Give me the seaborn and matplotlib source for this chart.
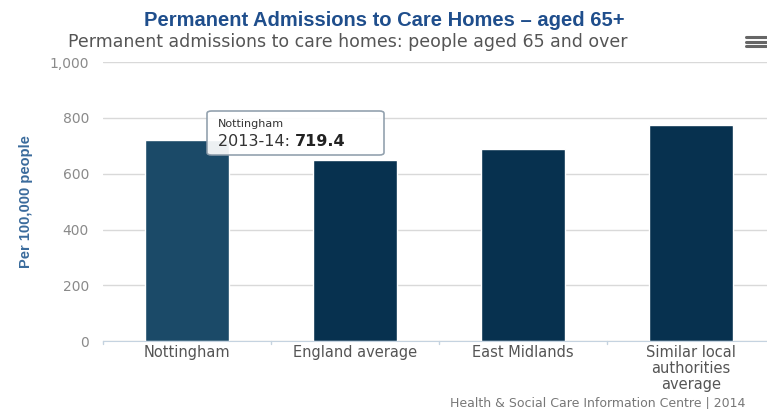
import matplotlib
matplotlib.use("Agg")
import matplotlib.pyplot as plt
from matplotlib.patches import FancyBboxPatch
from matplotlib.lines import Line2D
import pandas as pd
import seaborn as sns

areas = ["Nottingham", "England average", "East Midlands",
         "Similar local\nauthorities\naverage"]
admissions = [719.4, 649.0, 689.0, 774.0]
bar_colours = ["#1b4a68", "#07314f", "#07314f", "#07314f"]
yticks = [0, 200, 400, 600, 800, 1000]
ytick_labels = ["0", "200", "400", "600", "800", "1,000"]

df = pd.DataFrame({"area": areas, "value": admissions})

sns.set_style("white")
plt.rcParams["font.family"] = ["DejaVu Sans"]

fig = plt.figure(figsize=(7.67, 4.09), dpi=100)
ax = fig.add_axes([0.134, 0.166, 0.876, 0.682])

sns.barplot(data=df, x="area", y="value", hue="area", palette=bar_colours,
            legend=False, width=0.5, ax=ax, saturation=1)

ax.set_ylim(0, 1000)
ax.set_xlim(-0.5, 3.5)
ax.set_yticks(yticks)
ax.set_yticklabels(ytick_labels, color="#8a8a8a", fontsize=10)
ax.tick_params(axis="y", length=0, pad=10)
ax.tick_params(axis="x", length=0, pad=3, colors="#555555", labelsize=10.5)
for lbl in ax.get_xticklabels():
    lbl.set_color("#555555")
    lbl.set_linespacing(1.08)
ax.yaxis.grid(True, color="#d9d9d9", linewidth=1)
ax.set_axisbelow(True)
for s in ["top", "right", "left"]:
    ax.spines[s].set_visible(False)
ax.spines["bottom"].set_color("#c5d3e0")
ax.set_xlabel("")
ax.set_ylabel("Per 100,000 people", color="#3a6b9c", fontsize=10.5,
              fontweight="bold", labelpad=12, family=["Liberation Sans", "DejaVu Sans"])

# category boundary ticks under the baseline
for b in [-0.5, 0.5, 1.5, 2.5]:
    ax.plot([b, b], [0, -12], color="#c5d3e0", lw=1, clip_on=False,
            transform=ax.transData)

# tooltip
box = FancyBboxPatch((207 / 767, 1 - 155 / 409), 177 / 767, 44 / 409,
                     boxstyle="round,pad=0,rounding_size=0.006",
                     transform=fig.transFigure, facecolor="white",
                     edgecolor="#8a9aa8", linewidth=1.2, alpha=0.92, zorder=5)
fig.patches.append(box)
fig.text(218 / 767, 1 - 127 / 409, "Nottingham", fontsize=8,
         color="#333333", zorder=6)
t1 = fig.text(218 / 767, 1 - 146 / 409, "2013-14: ", fontsize=11.5,
              color="#333333", zorder=6)
fig.canvas.draw()
bb = t1.get_window_extent()
fig.text(bb.x1 / fig.bbox.width, 1 - 146 / 409, f"{admissions[0]:.1f}",
         fontsize=11.5, color="#222222", fontweight="bold", zorder=6)

# titles
fig.text(384 / 767, 1 - 20 / 409, "Permanent Admissions to Care Homes \u2013 aged 65+",
         ha="center", va="center", fontsize=14.5, fontweight="bold",
         color="#1f4e8c", family=["Liberation Sans", "DejaVu Sans"])
fig.text(68 / 767, 1 - 42 / 409,
         "Permanent admissions to care homes: people aged 65 and over",
         ha="left", va="center", fontsize=12.5, color="#555555")

# menu icon
for yy in [37, 41.5, 46]:
    fig.add_artist(Line2D([746 / 767, 766 / 767], [1 - yy / 409, 1 - yy / 409],
                          color="#666666", lw=2.2, transform=fig.transFigure))

# footer
fig.text(450 / 767, 1 - 403 / 409,
         "Health & Social Care Information Centre | 2014",
         fontsize=9, color="#777777", ha="left", va="center")

fig.savefig("out.png", dpi=100)
